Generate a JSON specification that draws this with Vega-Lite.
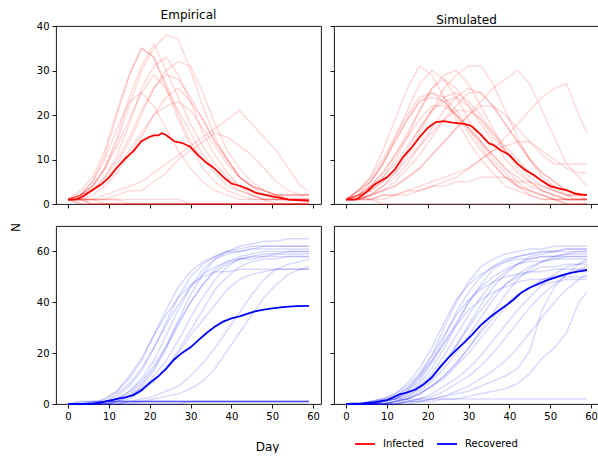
{
  "$schema": "https://vega.github.io/schema/vega-lite/v6.json",
  "autosize": {"type": "pad"},
  "padding": {"left": 8, "top": 8, "right": 0, "bottom": 0},
  "config": {
    "font": "DejaVu Sans",
    "view": {"stroke": "#000", "strokeWidth": 0.9},
    "axis": {"grid": false, "domain": false, "ticks": true, "tickSize": 4, "tickColor": "#000", "tickWidth": 0.9, "labelFontSize": 10, "labelColor": "#000", "labelPadding": 3, "titleFontSize": 12, "titleFontWeight": "normal", "titleColor": "#000"},
    "title": {"fontSize": 12, "fontWeight": "normal", "color": "#000", "offset": -1},
    "legend": {"orient": "none", "legendX": 298, "legendY": 407, "direction": "horizontal", "symbolType": "stroke", "symbolSize": 400, "symbolStrokeWidth": 1.8, "labelFontSize": 10, "labelColor": "#000", "labelOffset": 7, "columnPadding": 9}
  },
  "datasets": {
    "EI": [
      {"day":0,"a":1,"b":1,"c":1,"d":1,"e":1,"f":1,"g":1,"h":1,"i":1,"j":1,"k":1,"l":1,"m":1,"n":1,"o":1,"p":1,"q":1,"r":1,"s":1,"t":1},
      {"day":3,"a":2,"b":2,"c":2,"d":3,"e":2,"f":1,"g":2,"h":2,"i":1,"j":1,"k":1,"l":2,"m":2,"n":1,"o":0,"p":1,"q":1,"r":0,"s":1,"t":1},
      {"day":6,"a":4,"b":5,"c":4,"d":6,"e":3,"f":3,"g":3,"h":4,"i":2,"j":1,"k":1,"l":3,"m":5,"n":0,"o":0,"p":1,"q":1,"r":0,"s":0,"t":1},
      {"day":9,"a":8,"b":11,"c":8,"d":12,"e":6,"f":5,"g":6,"h":8,"i":4,"j":2,"k":1,"l":5,"m":10,"n":0,"o":0,"p":0,"q":1,"r":0,"s":0,"t":1},
      {"day":12,"a":14,"b":20,"c":15,"d":21,"e":11,"f":9,"g":10,"h":13,"i":7,"j":3,"k":2,"l":8,"m":17,"n":0,"o":0,"p":0,"q":1,"r":0,"s":0,"t":1},
      {"day":15,"a":22,"b":29,"c":24,"d":29,"e":18,"f":14,"g":15,"h":19,"i":11,"j":4,"k":3,"l":12,"m":23,"n":0,"o":0,"p":0,"q":0,"r":0,"s":0,"t":1},
      {"day":18,"a":30,"b":35,"c":31,"d":35,"e":26,"f":20,"g":21,"h":25,"i":15,"j":5,"k":3,"l":16,"m":25,"n":0,"o":0,"p":0,"q":0,"r":0,"s":0,"t":1},
      {"day":21,"a":35,"b":33,"c":36,"d":33,"e":31,"f":26,"g":26,"h":29,"i":20,"j":7,"k":5,"l":20,"m":22,"n":0,"o":0,"p":0,"q":0,"r":0,"s":0,"t":1},
      {"day":24,"a":38,"b":26,"c":30,"d":27,"e":33,"f":30,"g":29,"h":26,"i":24,"j":9,"k":7,"l":22,"m":17,"n":0,"o":0,"p":0,"q":0,"r":0,"s":0,"t":1},
      {"day":27,"a":37,"b":19,"c":24,"d":20,"e":29,"f":32,"g":28,"h":21,"i":26,"j":11,"k":10,"l":23,"m":12,"n":0,"o":0,"p":0,"q":0,"r":0,"s":0,"t":1},
      {"day":30,"a":30,"b":13,"c":18,"d":14,"e":23,"f":31,"g":24,"h":16,"i":23,"j":13,"k":12,"l":21,"m":8,"n":0,"o":0,"p":0,"q":0,"r":0,"s":0,"t":0},
      {"day":33,"a":22,"b":8,"c":13,"d":10,"e":16,"f":25,"g":19,"h":11,"i":19,"j":15,"k":14,"l":17,"m":5,"n":0,"o":0,"p":0,"q":0,"r":0,"s":0,"t":0},
      {"day":36,"a":15,"b":5,"c":9,"d":7,"e":11,"f":18,"g":14,"h":8,"i":14,"j":17,"k":16,"l":13,"m":3,"n":0,"o":0,"p":0,"q":0,"r":0,"s":0,"t":0},
      {"day":39,"a":10,"b":3,"c":6,"d":4,"e":7,"f":12,"g":10,"h":5,"i":10,"j":19,"k":15,"l":9,"m":2,"n":0,"o":0,"p":0,"q":0,"r":0,"s":0,"t":0},
      {"day":42,"a":6,"b":2,"c":4,"d":3,"e":4,"f":8,"g":6,"h":3,"i":6,"j":21,"k":13,"l":6,"m":1,"n":0,"o":0,"p":0,"q":0,"r":0,"s":0,"t":0},
      {"day":45,"a":4,"b":1,"c":2,"d":2,"e":3,"f":5,"g":4,"h":2,"i":4,"j":18,"k":11,"l":4,"m":1,"n":0,"o":0,"p":0,"q":0,"r":0,"s":0,"t":0},
      {"day":48,"a":3,"b":1,"c":1,"d":1,"e":2,"f":3,"g":3,"h":1,"i":3,"j":15,"k":8,"l":2,"m":1,"n":0,"o":0,"p":0,"q":0,"r":0,"s":0,"t":0},
      {"day":51,"a":2,"b":1,"c":1,"d":1,"e":2,"f":2,"g":2,"h":1,"i":2,"j":12,"k":5,"l":1,"m":0,"n":0,"o":0,"p":0,"q":0,"r":0,"s":0,"t":0},
      {"day":54,"a":2,"b":1,"c":1,"d":1,"e":1,"f":2,"g":1,"h":1,"i":2,"j":8,"k":3,"l":1,"m":0,"n":0,"o":0,"p":0,"q":0,"r":0,"s":0,"t":0},
      {"day":57,"a":2,"b":1,"c":1,"d":1,"e":1,"f":2,"g":1,"h":1,"i":2,"j":4,"k":2,"l":1,"m":0,"n":0,"o":0,"p":0,"q":0,"r":0,"s":0,"t":0},
      {"day":59,"a":2,"b":1,"c":1,"d":1,"e":1,"f":2,"g":1,"h":1,"i":2,"j":3,"k":2,"l":1,"m":0,"n":0,"o":0,"p":0,"q":0,"r":0,"s":0,"t":0}
    ],
    "ER": [
      {"day":0,"a":0,"b":0,"c":0,"d":0,"e":0,"f":0,"g":0,"h":0,"i":0,"j":0,"k":0,"l":0,"m":0,"n":0,"o":0,"p":0,"q":0,"r":0,"s":0,"t":0},
      {"day":3,"a":0,"b":0,"c":0,"d":0,"e":0,"f":0,"g":0,"h":0,"i":0,"j":0,"k":0,"l":0,"m":0,"n":0,"o":1,"p":0,"q":0,"r":1,"s":0,"t":0},
      {"day":6,"a":0,"b":0,"c":0,"d":0,"e":0,"f":0,"g":0,"h":0,"i":0,"j":0,"k":0,"l":0,"m":0,"n":1,"o":1,"p":0,"q":0,"r":1,"s":1,"t":0},
      {"day":9,"a":1,"b":1,"c":1,"d":2,"e":1,"f":0,"g":1,"h":1,"i":0,"j":0,"k":0,"l":0,"m":2,"n":1,"o":1,"p":1,"q":0,"r":1,"s":1,"t":0},
      {"day":12,"a":2,"b":3,"c":2,"d":5,"e":2,"f":1,"g":2,"h":4,"i":1,"j":0,"k":0,"l":1,"m":5,"n":1,"o":1,"p":1,"q":0,"r":1,"s":1,"t":0},
      {"day":15,"a":3,"b":7,"c":5,"d":10,"e":4,"f":3,"g":5,"h":8,"i":2,"j":1,"k":0,"l":3,"m":11,"n":1,"o":1,"p":1,"q":1,"r":1,"s":1,"t":0},
      {"day":18,"a":7,"b":13,"c":10,"d":17,"e":8,"f":6,"g":9,"h":14,"i":5,"j":2,"k":1,"l":6,"m":18,"n":1,"o":1,"p":1,"q":1,"r":1,"s":1,"t":0},
      {"day":21,"a":13,"b":22,"c":17,"d":27,"e":14,"f":11,"g":15,"h":22,"i":9,"j":3,"k":2,"l":9,"m":27,"n":1,"o":1,"p":1,"q":1,"r":1,"s":1,"t":0},
      {"day":24,"a":22,"b":32,"c":27,"d":37,"e":22,"f":17,"g":23,"h":31,"i":14,"j":5,"k":3,"l":14,"m":35,"n":1,"o":1,"p":1,"q":1,"r":1,"s":1,"t":0},
      {"day":27,"a":33,"b":42,"c":37,"d":46,"e":31,"f":25,"g":32,"h":39,"i":21,"j":7,"k":4,"l":20,"m":42,"n":1,"o":1,"p":1,"q":1,"r":1,"s":1,"t":0},
      {"day":30,"a":43,"b":50,"c":46,"d":52,"e":40,"f":34,"g":40,"h":46,"i":29,"j":11,"k":6,"l":27,"m":47,"n":1,"o":1,"p":1,"q":1,"r":1,"s":1,"t":1},
      {"day":33,"a":51,"b":55,"c":53,"d":56,"e":47,"f":42,"g":47,"h":51,"i":37,"j":16,"k":9,"l":33,"m":50,"n":1,"o":1,"p":1,"q":1,"r":1,"s":1,"t":1},
      {"day":36,"a":57,"b":58,"c":57,"d":58,"e":53,"f":49,"g":52,"h":54,"i":45,"j":22,"k":14,"l":39,"m":52,"n":1,"o":1,"p":1,"q":1,"r":1,"s":1,"t":1},
      {"day":39,"a":60,"b":60,"c":59,"d":60,"e":56,"f":54,"g":55,"h":56,"i":50,"j":29,"k":21,"l":45,"m":52,"n":1,"o":1,"p":1,"q":1,"r":1,"s":1,"t":1},
      {"day":42,"a":62,"b":61,"c":60,"d":60,"e":58,"f":57,"g":57,"h":57,"i":54,"j":36,"k":28,"l":49,"m":53,"n":1,"o":1,"p":1,"q":1,"r":1,"s":1,"t":1},
      {"day":45,"a":63,"b":62,"c":61,"d":61,"e":59,"f":58,"g":58,"h":57,"i":56,"j":43,"k":35,"l":51,"m":53,"n":1,"o":1,"p":1,"q":1,"r":1,"s":1,"t":1},
      {"day":48,"a":64,"b":62,"c":62,"d":61,"e":60,"f":59,"g":58,"h":58,"i":57,"j":49,"k":42,"l":52,"m":53,"n":1,"o":1,"p":1,"q":1,"r":1,"s":1,"t":1},
      {"day":51,"a":64,"b":62,"c":62,"d":61,"e":60,"f":59,"g":59,"h":58,"i":57,"j":53,"k":47,"l":53,"m":53,"n":1,"o":1,"p":1,"q":1,"r":1,"s":1,"t":1},
      {"day":54,"a":65,"b":62,"c":62,"d":61,"e":60,"f":60,"g":59,"h":58,"i":58,"j":55,"k":51,"l":53,"m":53,"n":1,"o":1,"p":1,"q":1,"r":1,"s":1,"t":1},
      {"day":57,"a":65,"b":62,"c":62,"d":61,"e":60,"f":60,"g":59,"h":58,"i":58,"j":56,"k":53,"l":53,"m":53,"n":1,"o":1,"p":1,"q":1,"r":1,"s":1,"t":1},
      {"day":59,"a":65,"b":62,"c":62,"d":61,"e":60,"f":60,"g":59,"h":58,"i":58,"j":57,"k":54,"l":53,"m":53,"n":1,"o":1,"p":1,"q":1,"r":1,"s":1,"t":1}
    ],
    "SI": [
      {"day":0,"a":1,"b":1,"c":1,"d":1,"e":1,"f":1,"g":1,"h":1,"i":1,"j":1,"k":1,"l":1,"m":1,"n":1,"o":1,"p":1,"q":1,"r":1,"s":1,"t":1},
      {"day":3,"a":3,"b":2,"c":2,"d":1,"e":2,"f":1,"g":3,"h":2,"i":1,"j":1,"k":2,"l":1,"m":3,"n":2,"o":1,"p":2,"q":1,"r":1,"s":3,"t":2},
      {"day":6,"a":6,"b":5,"c":3,"d":2,"e":4,"f":2,"g":6,"h":3,"i":2,"j":1,"k":4,"l":2,"m":5,"n":3,"o":1,"p":4,"q":2,"r":1,"s":5,"t":1},
      {"day":9,"a":12,"b":9,"c":6,"d":4,"e":7,"f":4,"g":10,"h":5,"i":3,"j":1,"k":6,"l":3,"m":9,"n":5,"o":2,"p":7,"q":3,"r":2,"s":9,"t":0},
      {"day":12,"a":19,"b":15,"c":10,"d":7,"e":11,"f":6,"g":15,"h":8,"i":4,"j":2,"k":9,"l":4,"m":14,"n":7,"o":2,"p":11,"q":5,"r":2,"s":14,"t":0},
      {"day":15,"a":26,"b":21,"c":15,"d":11,"e":16,"f":9,"g":20,"h":12,"i":6,"j":2,"k":13,"l":6,"m":19,"n":10,"o":3,"p":15,"q":8,"r":3,"s":19,"t":0},
      {"day":18,"a":31,"b":27,"c":21,"d":16,"e":21,"f":13,"g":24,"h":17,"i":8,"j":3,"k":17,"l":8,"m":23,"n":13,"o":4,"p":19,"q":11,"r":3,"s":23,"t":0},
      {"day":21,"a":29,"b":30,"c":26,"d":21,"e":26,"f":17,"g":25,"h":21,"i":11,"j":4,"k":21,"l":11,"m":24,"n":16,"o":5,"p":22,"q":15,"r":4,"s":25,"t":0},
      {"day":24,"a":24,"b":28,"c":29,"d":26,"e":28,"f":21,"g":23,"h":24,"i":14,"j":5,"k":23,"l":14,"m":23,"n":19,"o":6,"p":22,"q":19,"r":4,"s":24,"t":0},
      {"day":27,"a":19,"b":24,"c":30,"d":29,"e":26,"f":24,"g":20,"h":25,"i":17,"j":6,"k":24,"l":17,"m":20,"n":21,"o":7,"p":20,"q":22,"r":5,"s":21,"t":0},
      {"day":30,"a":14,"b":19,"c":27,"d":31,"e":22,"f":26,"g":16,"h":23,"i":20,"j":8,"k":22,"l":20,"m":17,"n":21,"o":8,"p":17,"q":25,"r":5,"s":17,"t":0},
      {"day":33,"a":10,"b":14,"c":22,"d":31,"e":18,"f":25,"g":12,"h":20,"i":23,"j":10,"k":19,"l":22,"m":14,"n":19,"o":10,"p":14,"q":25,"r":6,"s":13,"t":0},
      {"day":36,"a":7,"b":10,"c":17,"d":27,"e":14,"f":22,"g":9,"h":16,"i":26,"j":12,"k":15,"l":22,"m":11,"n":16,"o":12,"p":11,"q":22,"r":6,"s":9,"t":0},
      {"day":39,"a":4,"b":7,"c":12,"d":21,"e":10,"f":18,"g":6,"h":12,"i":28,"j":15,"k":12,"l":20,"m":8,"n":13,"o":13,"p":8,"q":18,"r":6,"s":6,"t":0},
      {"day":42,"a":3,"b":4,"c":8,"d":15,"e":7,"f":14,"g":4,"h":9,"i":30,"j":18,"k":9,"l":17,"m":5,"n":10,"o":14,"p":6,"q":14,"r":5,"s":4,"t":0},
      {"day":45,"a":2,"b":3,"c":5,"d":10,"e":5,"f":10,"g":3,"h":6,"i":27,"j":21,"k":7,"l":14,"m":3,"n":7,"o":14,"p":4,"q":10,"r":5,"s":2,"t":0},
      {"day":48,"a":1,"b":2,"c":3,"d":6,"e":3,"f":7,"g":2,"h":4,"i":21,"j":24,"k":5,"l":11,"m":2,"n":5,"o":12,"p":3,"q":7,"r":4,"s":1,"t":0},
      {"day":51,"a":1,"b":1,"c":2,"d":4,"e":2,"f":5,"g":1,"h":3,"i":15,"j":26,"k":4,"l":9,"m":1,"n":3,"o":10,"p":2,"q":5,"r":3,"s":1,"t":0},
      {"day":54,"a":0,"b":1,"c":1,"d":2,"e":1,"f":3,"g":1,"h":2,"i":9,"j":27,"k":3,"l":9,"m":1,"n":2,"o":8,"p":1,"q":3,"r":2,"s":0,"t":0},
      {"day":57,"a":0,"b":1,"c":1,"d":1,"e":1,"f":2,"g":1,"h":2,"i":6,"j":20,"k":2,"l":9,"m":1,"n":2,"o":7,"p":1,"q":2,"r":2,"s":0,"t":0},
      {"day":59,"a":0,"b":1,"c":1,"d":1,"e":1,"f":2,"g":1,"h":2,"i":4,"j":16,"k":2,"l":9,"m":1,"n":2,"o":7,"p":1,"q":2,"r":1,"s":0,"t":0}
    ],
    "SR": [
      {"day":0,"a":0,"b":0,"c":0,"d":0,"e":0,"f":0,"g":0,"h":0,"i":0,"j":0,"k":0,"l":0,"m":0,"n":0,"o":0,"p":0,"q":0,"r":0,"s":0,"t":0},
      {"day":3,"a":0,"b":0,"c":0,"d":0,"e":0,"f":0,"g":0,"h":0,"i":0,"j":0,"k":0,"l":0,"m":0,"n":0,"o":0,"p":0,"q":0,"r":0,"s":0,"t":0},
      {"day":6,"a":0,"b":0,"c":0,"d":0,"e":0,"f":0,"g":1,"h":0,"i":0,"j":0,"k":0,"l":0,"m":1,"n":0,"o":0,"p":0,"q":0,"r":0,"s":0,"t":1},
      {"day":9,"a":1,"b":1,"c":0,"d":1,"e":0,"f":1,"g":2,"h":0,"i":1,"j":0,"k":1,"l":0,"m":2,"n":0,"o":0,"p":1,"q":0,"r":0,"s":0,"t":2},
      {"day":12,"a":3,"b":2,"c":1,"d":2,"e":1,"f":2,"g":4,"h":1,"i":2,"j":0,"k":2,"l":0,"m":4,"n":1,"o":0,"p":3,"q":1,"r":0,"s":0,"t":2},
      {"day":15,"a":6,"b":4,"c":3,"d":5,"e":2,"f":4,"g":8,"h":2,"i":5,"j":1,"k":3,"l":1,"m":7,"n":2,"o":1,"p":6,"q":2,"r":1,"s":0,"t":2},
      {"day":18,"a":11,"b":8,"c":6,"d":10,"e":4,"f":7,"g":14,"h":5,"i":9,"j":2,"k":6,"l":2,"m":12,"n":4,"o":1,"p":11,"q":4,"r":1,"s":1,"t":2},
      {"day":21,"a":19,"b":14,"c":10,"d":17,"e":7,"f":12,"g":22,"h":9,"i":16,"j":4,"k":10,"l":3,"m":19,"n":7,"o":2,"p":17,"q":7,"r":2,"s":1,"t":2},
      {"day":24,"a":30,"b":22,"c":16,"d":26,"e":11,"f":19,"g":32,"h":14,"i":24,"j":7,"k":16,"l":5,"m":27,"n":10,"o":3,"p":24,"q":11,"r":3,"s":2,"t":2},
      {"day":27,"a":40,"b":31,"c":23,"d":36,"e":16,"f":27,"g":41,"h":20,"i":32,"j":10,"k":23,"l":8,"m":35,"n":15,"o":5,"p":31,"q":16,"r":4,"s":2,"t":2},
      {"day":30,"a":48,"b":40,"c":31,"d":44,"e":22,"f":35,"g":47,"h":27,"i":40,"j":14,"k":30,"l":11,"m":41,"n":20,"o":7,"p":37,"q":22,"r":5,"s":3,"t":2},
      {"day":33,"a":54,"b":47,"c":39,"d":50,"e":29,"f":42,"g":51,"h":34,"i":46,"j":19,"k":37,"l":15,"m":45,"n":26,"o":10,"p":41,"q":28,"r":7,"s":4,"t":2},
      {"day":36,"a":57,"b":53,"c":46,"d":54,"e":36,"f":48,"g":54,"h":41,"i":50,"j":25,"k":43,"l":20,"m":48,"n":32,"o":13,"p":44,"q":34,"r":9,"s":5,"t":2},
      {"day":39,"a":59,"b":56,"c":51,"d":57,"e":43,"f":52,"g":56,"h":47,"i":53,"j":31,"k":47,"l":26,"m":50,"n":38,"o":17,"p":46,"q":39,"r":11,"s":6,"t":2},
      {"day":42,"a":60,"b":58,"c":55,"d":58,"e":49,"f":55,"g":57,"h":51,"i":55,"j":37,"k":50,"l":32,"m":51,"n":43,"o":22,"p":48,"q":43,"r":14,"s":8,"t":2},
      {"day":45,"a":61,"b":59,"c":58,"d":59,"e":53,"f":57,"g":57,"h":54,"i":56,"j":42,"k":52,"l":38,"m":52,"n":46,"o":28,"p":49,"q":46,"r":21,"s":12,"t":2},
      {"day":48,"a":61,"b":60,"c":59,"d":60,"e":56,"f":58,"g":58,"h":56,"i":56,"j":47,"k":54,"l":43,"m":52,"n":49,"o":34,"p":49,"q":47,"r":37,"s":18,"t":2},
      {"day":51,"a":62,"b":60,"c":60,"d":60,"e":58,"f":58,"g":58,"h":57,"i":57,"j":51,"k":54,"l":47,"m":53,"n":50,"o":40,"p":50,"q":48,"r":46,"s":22,"t":2},
      {"day":54,"a":62,"b":61,"c":61,"d":60,"e":59,"f":59,"g":58,"h":58,"i":57,"j":54,"k":55,"l":51,"m":53,"n":51,"o":45,"p":50,"q":49,"r":51,"s":28,"t":2},
      {"day":57,"a":62,"b":61,"c":61,"d":60,"e":60,"f":59,"g":58,"h":58,"i":57,"j":55,"k":55,"l":53,"m":53,"n":52,"o":49,"p":50,"q":49,"r":55,"s":40,"t":2},
      {"day":59,"a":62,"b":61,"c":61,"d":60,"e":60,"f":59,"g":58,"h":58,"i":57,"j":56,"k":55,"l":54,"m":53,"n":52,"o":51,"p":50,"q":49,"r":57,"s":44,"t":2}
    ],
    "EIm": [
      {"day":0,"v":1},{"day":2,"v":1.05},{"day":4,"v":1.9},{"day":6,"v":3.2},{"day":8,"v":4.3},{"day":10,"v":5.9},{"day":12,"v":8.2},{"day":14,"v":10.2},{"day":16,"v":11.9},{"day":18,"v":14.1},{"day":20,"v":15.1},{"day":21,"v":15.4},{"day":22,"v":15.4},{"day":23,"v":15.9},{"day":24,"v":15.5},{"day":26,"v":14.1},{"day":28,"v":13.7},{"day":30,"v":12.8},{"day":32,"v":10.8},{"day":34,"v":9.2},{"day":36,"v":7.9},{"day":38,"v":6.1},{"day":40,"v":4.6},{"day":42,"v":4.1},{"day":44,"v":3.4},{"day":46,"v":2.5},{"day":48,"v":2.1},{"day":50,"v":1.7},{"day":52,"v":1.4},{"day":54,"v":1.0},{"day":56,"v":0.9},{"day":59,"v":0.7}
    ],
    "ERm": [
      {"day":0,"v":0},{"day":4,"v":0},{"day":6,"v":0.2},{"day":8,"v":0.5},{"day":10,"v":1.2},{"day":12,"v":2},{"day":14,"v":2.6},{"day":16,"v":3.5},{"day":18,"v":5.4},{"day":20,"v":8.3},{"day":22,"v":10.8},{"day":24,"v":13.8},{"day":26,"v":17.5},{"day":28,"v":20.2},{"day":30,"v":22.3},{"day":32,"v":25.2},{"day":34,"v":28},{"day":36,"v":30.5},{"day":38,"v":32.4},{"day":40,"v":33.7},{"day":42,"v":34.5},{"day":44,"v":35.5},{"day":46,"v":36.5},{"day":48,"v":37.1},{"day":50,"v":37.6},{"day":52,"v":38},{"day":54,"v":38.3},{"day":56,"v":38.5},{"day":59,"v":38.6}
    ],
    "SIm": [
      {"day":0,"v":1},{"day":2,"v":1},{"day":3,"v":1.3},{"day":5,"v":2.7},{"day":7,"v":4.4},{"day":10,"v":6},{"day":12,"v":7.8},{"day":14,"v":10.6},{"day":16,"v":12.6},{"day":18,"v":15},{"day":20,"v":17.1},{"day":22,"v":18.4},{"day":24,"v":18.6},{"day":26,"v":18.3},{"day":28,"v":18.1},{"day":30,"v":17.8},{"day":31,"v":17.3},{"day":33,"v":15.6},{"day":35,"v":13.6},{"day":36,"v":13.3},{"day":38,"v":12},{"day":40,"v":11},{"day":42,"v":9},{"day":44,"v":7.6},{"day":46,"v":6.5},{"day":48,"v":5.2},{"day":50,"v":4},{"day":52,"v":3.5},{"day":54,"v":3.1},{"day":56,"v":2.4},{"day":58,"v":2.1},{"day":59,"v":2.0}
    ],
    "SRm": [
      {"day":0,"v":0},{"day":4,"v":0.2},{"day":7,"v":0.7},{"day":10,"v":1.5},{"day":13,"v":3.7},{"day":15,"v":4.6},{"day":17,"v":5.7},{"day":19,"v":7.8},{"day":21,"v":10.5},{"day":23,"v":14.5},{"day":25,"v":18},{"day":27,"v":21.3},{"day":29,"v":24.2},{"day":31,"v":27.5},{"day":33,"v":31},{"day":35,"v":33.8},{"day":37,"v":36.3},{"day":39,"v":38.5},{"day":41,"v":41},{"day":43,"v":43.9},{"day":45,"v":45.7},{"day":47,"v":47.2},{"day":49,"v":48.5},{"day":51,"v":49.6},{"day":53,"v":50.7},{"day":55,"v":51.6},{"day":57,"v":52.2},{"day":59,"v":52.7}
    ]
  },
  "spacing": 12,
  "vconcat": [
    {
      "bounds": "flush",
      "spacing": 13,
      "hconcat": [
        {
          "width": 265, "height": 178,
          "title": "Empirical",
          "layer": [
            {
              "data": {"name": "EI"},
              "transform": [{"fold": ["a","b","c","d","e","f","g","h","i","j","k","l","m","n","o","p","q","r","s","t"], "as": ["run","v"]}],
              "mark": {"type": "line", "stroke": "#ff0000", "strokeWidth": 1.5, "opacity": 0.15},
              "encoding": {
                "x": {"field": "day", "type": "quantitative", "scale": {"domain": [-2.95, 61.95], "nice": false, "zero": false}, "axis": {"values": [0,10,20,30,40,50,60], "labels": false, "title": null}},
                "y": {"field": "v", "type": "quantitative", "scale": {"domain": [0, 40], "nice": false}, "axis": {"values": [0,5,10,15,20,25,30,35,40], "title": null}},
                "detail": {"field": "run"}
              }
            },
            {
              "data": {"name": "EIm"},
              "mark": {"type": "line", "strokeWidth": 1.8},
              "encoding": {
                "x": {"field": "day", "type": "quantitative"},
                "y": {"field": "v", "type": "quantitative"},
                "color": {"datum": "Infected", "scale": {"domain": ["Infected", "Recovered"], "range": ["#ff0000", "#0000ff"]}, "legend": {"title": null}}
              }
            }
          ]
        },
        {
          "width": 265, "height": 178,
          "title": "Simulated",
          "layer": [
            {
              "data": {"name": "SI"},
              "transform": [{"fold": ["a","b","c","d","e","f","g","h","i","j","k","l","m","n","o","p","q","r","s","t"], "as": ["run","v"]}],
              "mark": {"type": "line", "stroke": "#ff0000", "strokeWidth": 1.5, "opacity": 0.15},
              "encoding": {
                "x": {"field": "day", "type": "quantitative", "scale": {"domain": [-2.95, 61.95], "nice": false, "zero": false}, "axis": {"values": [0,10,20,30,40,50,60], "labels": false, "title": null}},
                "y": {"field": "v", "type": "quantitative", "scale": {"domain": [0, 40], "nice": false}, "axis": {"values": [0,5,10,15,20,25,30,35,40], "labels": false, "title": null}},
                "detail": {"field": "run"}
              }
            },
            {
              "data": {"name": "SIm"},
              "mark": {"type": "line", "strokeWidth": 1.8},
              "encoding": {
                "x": {"field": "day", "type": "quantitative"},
                "y": {"field": "v", "type": "quantitative"},
                "color": {"datum": "Infected", "scale": {"domain": ["Infected", "Recovered"], "range": ["#ff0000", "#0000ff"]}, "legend": {"title": null}}
              }
            }
          ]
        }
      ]
    },
    {
      "bounds": "flush",
      "spacing": 13,
      "hconcat": [
        {
          "width": 265, "height": 178,
          "layer": [
            {
              "data": {"name": "ER"},
              "transform": [{"fold": ["a","b","c","d","e","f","g","h","i","j","k","l","m","n","o","p","q","r","s","t"], "as": ["run","v"]}],
              "mark": {"type": "line", "stroke": "#0000ff", "strokeWidth": 1.5, "opacity": 0.15},
              "encoding": {
                "x": {"field": "day", "type": "quantitative", "scale": {"domain": [-2.95, 61.95], "nice": false, "zero": false}, "axis": {"values": [0,10,20,30,40,50,60], "title": "Day", "titleX": 211, "titleY": 42, "titleBaseline": "middle", "titleAlign": "center"}},
                "y": {"field": "v", "type": "quantitative", "scale": {"domain": [0, 70], "nice": false}, "axis": {"values": [0,10,20,30,40,50,60,70], "title": "N", "titleX": -41, "titleY": 1, "titleBaseline": "middle", "titleAlign": "center"}},
                "detail": {"field": "run"}
              }
            },
            {
              "data": {"name": "ERm"},
              "mark": {"type": "line", "strokeWidth": 1.8},
              "encoding": {
                "x": {"field": "day", "type": "quantitative"},
                "y": {"field": "v", "type": "quantitative"},
                "color": {"datum": "Recovered", "scale": {"domain": ["Infected", "Recovered"], "range": ["#ff0000", "#0000ff"]}, "legend": {"title": null}}
              }
            }
          ]
        },
        {
          "width": 265, "height": 178,
          "layer": [
            {
              "data": {"name": "SR"},
              "transform": [{"fold": ["a","b","c","d","e","f","g","h","i","j","k","l","m","n","o","p","q","r","s","t"], "as": ["run","v"]}],
              "mark": {"type": "line", "stroke": "#0000ff", "strokeWidth": 1.5, "opacity": 0.15},
              "encoding": {
                "x": {"field": "day", "type": "quantitative", "scale": {"domain": [-2.95, 61.95], "nice": false, "zero": false}, "axis": {"values": [0,10,20,30,40,50,60], "title": null}},
                "y": {"field": "v", "type": "quantitative", "scale": {"domain": [0, 70], "nice": false}, "axis": {"values": [0,10,20,30,40,50,60,70], "labels": false, "title": null}},
                "detail": {"field": "run"}
              }
            },
            {
              "data": {"name": "SRm"},
              "mark": {"type": "line", "strokeWidth": 1.8},
              "encoding": {
                "x": {"field": "day", "type": "quantitative"},
                "y": {"field": "v", "type": "quantitative"},
                "color": {"datum": "Recovered", "scale": {"domain": ["Infected", "Recovered"], "range": ["#ff0000", "#0000ff"]}, "legend": {"title": null}}
              }
            }
          ]
        }
      ]
    }
  ]
}
